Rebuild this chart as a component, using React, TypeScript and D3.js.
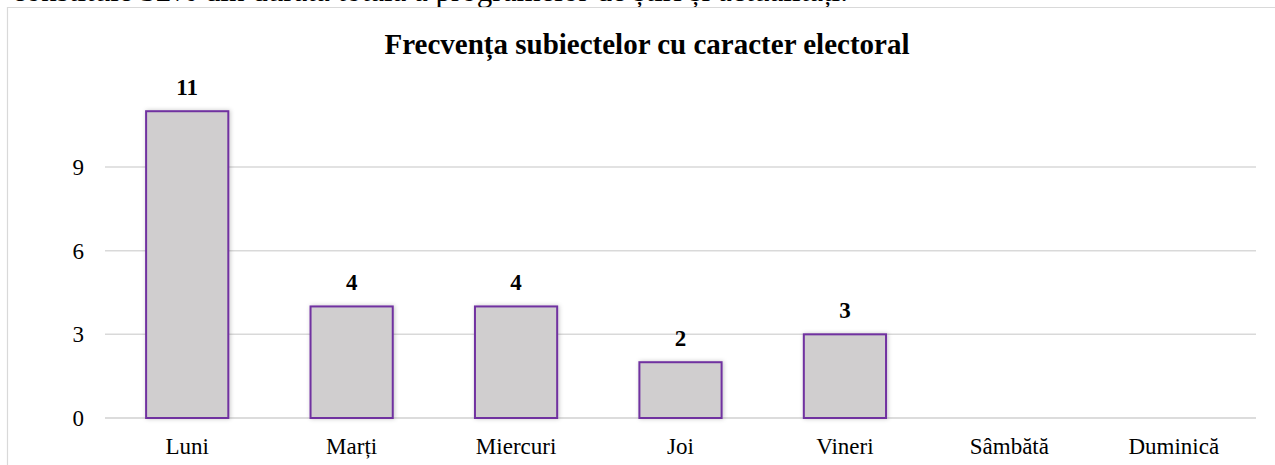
import React from "react";
import * as d3 from "d3";

const categories = ["Luni", "Marți", "Miercuri", "Joi", "Vineri", "Sâmbătă", "Duminică"];
const values = [11, 4, 4, 2, 3, null, null];
const yTicks = [0, 3, 6, 9];
const title = "Frecvența subiectelor cu caracter electoral";
const precedingText = "constituie 32% din durata totală a programelor de știri și actualități.";

const W = 1275;
const H = 465;
const FONT = "'Liberation Serif', 'Times New Roman', serif";

export default function App() {
  const x = d3
    .scaleBand<string>()
    .domain(categories)
    .range([105, 1256])
    .paddingInner(0.5)
    .paddingOuter(0.25);
  const y = d3.scaleLinear().domain([0, 9]).range([418, 167]);

  return (
    <svg
      width={W}
      height={H}
      style={{ position: "absolute", left: 0, top: 0, background: "#fff" }}
    >
      <defs>
        <filter id="sh" x="-20%" y="-20%" width="140%" height="140%">
          <feDropShadow dx="1" dy="0" stdDeviation="2" floodColor="#000" floodOpacity="0.22" />
        </filter>
      </defs>
      <text x={12} y={1} fontFamily={FONT} fontSize={31} fill="#000">
        {precedingText}
      </text>
      {/* frame */}
      <rect x={8} y={8} width={W - 8} height={H - 8} fill="#fff" />
      <line x1={7} x2={W} y1={7.5} y2={7.5} stroke="#d9d9d9" strokeWidth={1.2} />
      <line x1={7.5} x2={7.5} y1={7} y2={H} stroke="#d9d9d9" strokeWidth={1.2} />

      <text
        x={647}
        y={54}
        textAnchor="middle"
        fontFamily={FONT}
        fontWeight="bold"
        fontSize={29}
        fill="#000"
      >
        {title}
      </text>

      {yTicks.map((t) => (
        <g key={t}>
          <line
            x1={105}
            x2={1256}
            y1={y(t)}
            y2={y(t)}
            stroke={t === 0 ? "#d0d0d0" : "#d9d9d9"}
            strokeWidth={1.5}
          />
          <text
            x={84}
            y={y(t) + 8}
            textAnchor="end"
            fontFamily={FONT}
            fontSize={23}
            fill="#000"
          >
            {t}
          </text>
        </g>
      ))}

      {categories.map((c, i) => {
        const v = values[i];
        const bx = x(c)!;
        const bw = x.bandwidth();
        return (
          <g key={c}>
            {v != null && (
              <>
                <rect
                  x={bx}
                  y={y(v)}
                  width={bw}
                  height={y(0) - y(v)}
                  fill="#d0cecf"
                  stroke="#7030a0"
                  strokeWidth={2}
                  filter="url(#sh)"
                />
                <text
                  x={bx + bw / 2}
                  y={y(v) - 16.5}
                  textAnchor="middle"
                  fontFamily={FONT}
                  fontWeight="bold"
                  fontSize={23}
                  fill="#000"
                >
                  {v}
                </text>
              </>
            )}
            <text
              x={bx + bw / 2}
              y={454}
              textAnchor="middle"
              fontFamily={FONT}
              fontSize={23}
              fill="#000"
            >
              {c}
            </text>
          </g>
        );
      })}
    </svg>
  );
}
